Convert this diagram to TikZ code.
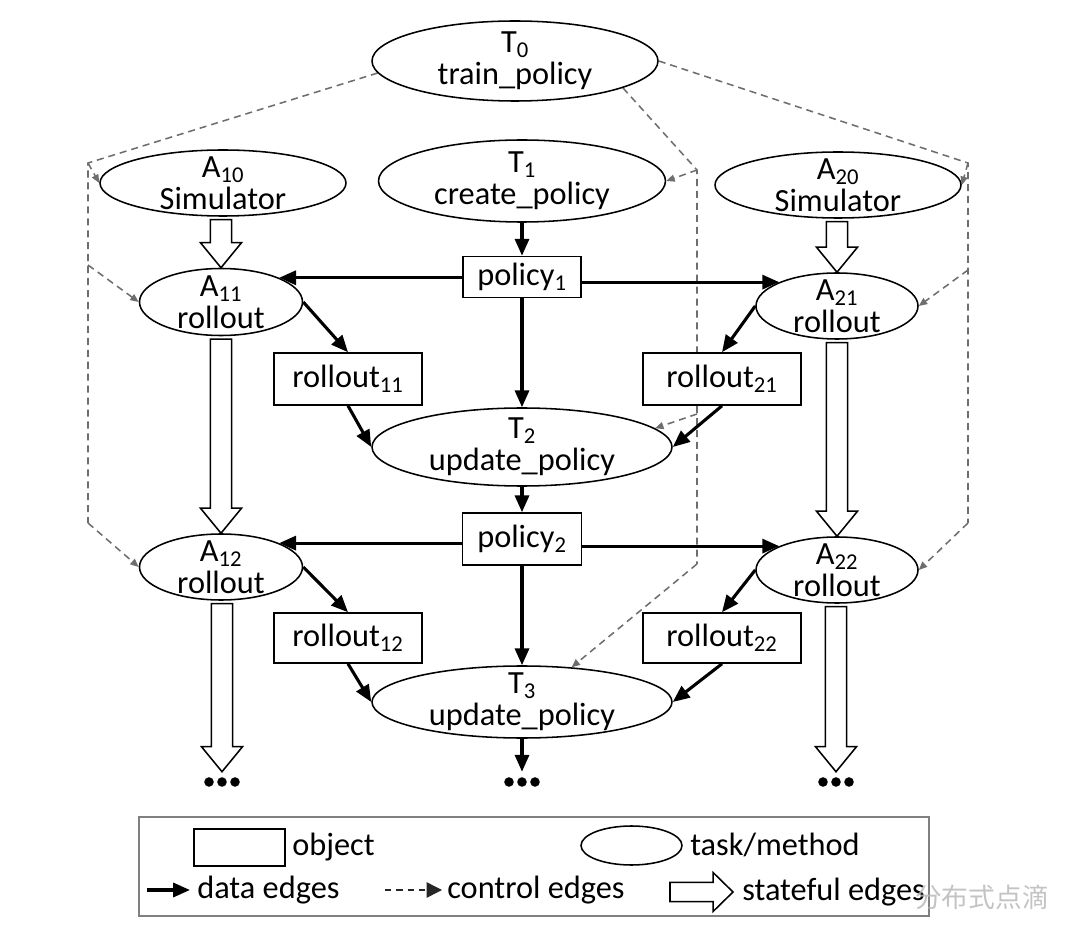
\documentclass[tikz,border=0pt]{standalone}
\usepackage{fontspec}
\setmainfont{Carlito}
\newfontfamily\cjkfont{Noto Sans CJK SC}
\usepackage{xcolor}
\usetikzlibrary{arrows.meta,shapes.geometric,positioning,calc,backgrounds}
\definecolor{ctrlgray}{RGB}{110,110,110}
\definecolor{framegray}{RGB}{128,128,128}
\definecolor{markgray}{RGB}{185,185,185}

% hollow "stateful" arrow from the south of #1 down to the north of #2
\newcommand{\statearrow}[2]{%
  \draw[stateful] let \p1=(#1.south), \p2=(#2.north) in
    (\x2,\y2) -- (\x2-14.6pt,\y2+17.8pt) -- (\x2-7.5pt,\y2+17.8pt)
    -- (\x2-7.5pt,\y1-2pt) -- (\x2+7.5pt,\y1-2pt) -- (\x2+7.5pt,\y2+17.8pt)
    -- (\x2+14.6pt,\y2+17.8pt) -- cycle;}

\begin{document}
\begin{tikzpicture}[x=0.025cm,y=-0.025cm,
  font=\fontsize{23pt}{23pt}\selectfont,
  wh/.style 2 args={minimum width=#1*0.025cm,minimum height=#2*0.025cm},
  task/.style={ellipse,draw,line width=1.1pt,fill=white,inner sep=-5pt,align=center},
  obj/.style={rectangle,draw,line width=1.1pt,fill=white,inner sep=0pt,align=center},
  data/.style={line width=2.2pt,-{Triangle[length=12pt,width=10pt]}},
  ctrl/.style={ctrlgray,line width=1.1pt,dash pattern=on 5pt off 3.5pt},
  ctrlarrow/.style={ctrl,-{Triangle[length=6pt,width=5pt]}},
  stateful/.style={draw,line width=1.1pt,fill=white,line join=miter},
  dotsnode/.style={inner sep=0pt,wh={40}{20}},
  legtext/.style={anchor=west,inner sep=0pt}]
\useasboundingbox (0,0) rectangle (1080,944);

% tasks and objects
\node[task,wh={286}{80}] (T0) at (515,61) {T\textsubscript{0}\\train\_policy};
\node[task,wh={246}{66}] (A10) at (223,183) {A\textsubscript{10}\\Simulator};
\node[task,wh={287}{82}] (T1) at (522,181) {T\textsubscript{1}\\create\_policy};
\node[task,wh={246}{66}] (A20) at (838,185) {A\textsubscript{20}\\Simulator};
\node[obj,wh={118}{41}] (p1) at (522,277) {policy\textsubscript{1}};
\node[task,wh={163}{67}] (A11) at (221,302) {A\textsubscript{11}\\rollout};
\node[task,wh={162}{66}] (A21) at (837,306) {A\textsubscript{21}\\rollout};
\node[obj,wh={148}{52}] (r11) at (348,379) {rollout\textsubscript{11}};
\node[obj,wh={158}{52}] (r21) at (722,379) {rollout\textsubscript{21}};
\node[task,wh={300}{78}] (T2) at (522,447) {T\textsubscript{2}\\update\_policy};
\node[obj,wh={119}{52}] (p2) at (522,539) {policy\textsubscript{2}};
\node[task,wh={163}{66}] (A12) at (221,567) {A\textsubscript{12}\\rollout};
\node[task,wh={162}{66}] (A22) at (837,570) {A\textsubscript{22}\\rollout};
\node[obj,wh={148}{50}] (r12) at (348,638) {rollout\textsubscript{12}};
\node[obj,wh={158}{50}] (r22) at (722,638) {rollout\textsubscript{22}};
\node[task,wh={300}{72}] (T3) at (522,702) {T\textsubscript{3}\\update\_policy};
\node[dotsnode] (e1) at (222,782) {};
\node[dotsnode] (e2) at (522,782) {};
\node[dotsnode] (e3) at (836,782) {};
\foreach \e in {e1,e2,e3}
  \foreach \dx in {-13,0,13}
    \fill ($(\e)+(\dx,0)$) circle[radius=3.4pt];

% data edges
\draw[data] (T1) -- (p1);
\draw[data] (A11.north east -| p1.west) -- (A11.north east);
\draw[data] (A21.north west -| p1.east) -- (A21.north west);
\draw[data] (p1) -- (T2);
\draw[data] (A11.east) -- (r11.north);
\draw[data] (A21.west) -- (r21.north);
\draw[data] (r11.south) -- (T2.west);
\draw[data] (r21.south) -- (T2.east);
\draw[data] (T2) -- (p2);
\draw[data] (A12.north east -| p2.west) -- (A12.north east);
\draw[data] (A22.north west -| p2.east) -- (A22.north west);
\draw[data] (p2) -- (T3);
\draw[data] (A12.east) -- (r12.north);
\draw[data] (A22.west) -- (r22.north);
\draw[data] (r12.south) -- (T3.west);
\draw[data] (r22.south) -- (T3.east);
\draw[data] (T3) -- (e2);

% stateful edges
\statearrow{A10}{A11}
\statearrow{A11}{A12}
\statearrow{A12}{e1}
\statearrow{A20}{A21}
\statearrow{A21}{A22}
\statearrow{A22}{e3}

% control edges
\begin{scope}[on background layer]
  \coordinate (lc1) at (88,163);
  \coordinate (lc2) at (88,265);
  \coordinate (lc3) at (88,523);
  \coordinate (rc1) at (968,163);
  \coordinate (rc2) at (968,270);
  \coordinate (rc3) at (968,523);
  \coordinate (mc1) at (697,170);
  \coordinate (mc2) at (697,414);
  \coordinate (mc3) at (697,564);
  \draw[ctrl] (T0.185) -- (lc1) -- (lc3);
  \draw[ctrl] (T0.east) -- (rc1) -- (rc3);
  \draw[ctrl] (T0.-14) -- (mc1) -- (mc3);
  \draw[ctrlarrow] (lc1) -- (A10.west);
  \draw[ctrlarrow] (lc2) -- (A11.west);
  \draw[ctrlarrow] (lc3) -- (A12.west);
  \draw[ctrlarrow] (rc1) -- (A20.east);
  \draw[ctrlarrow] (rc2) -- (A21.east);
  \draw[ctrlarrow] (rc3) -- (A22.east);
  \draw[ctrlarrow] (mc1) -- (T1.east);
  \draw[ctrlarrow] (mc2) -- (T2.8);
  \draw[ctrlarrow] (mc3) -- (T3.35);
\end{scope}

% legend
\node[draw=framegray,line width=1.4pt,wh={790}{99}] (leg) at (534,866.5) {};
\node[obj,wh={91}{37}] (lobj) at (239.5,847.5) {};
\node[legtext] (tobj) at (292,847) {object};
\node[task,wh={101}{39}] (ltask) at (631.5,845.5) {};
\node[legtext] (ttask) at (690,845) {task/method};
\coordinate (ld1) at (147,890);
\coordinate (ld2) at (190,890);
\draw[data] (ld1) -- (ld2);
\node[legtext] (tdata) at (197,890) {data edges};
\coordinate (lk1) at (385,890);
\coordinate (lk2) at (442,890);
\draw[black!85,line width=1pt,dash pattern=on 4.5pt off 3.5pt,
  -{Triangle[length=11pt,width=11pt]}] (lk1) -- (lk2);
\node[legtext] (tctrl) at (447,890) {control edges};
\coordinate (ls1) at (670,892);
\coordinate (ls2) at (733,892);
\draw[stateful] let \p1=(ls1), \p2=(ls2) in
  (\x2,\y2) -- (\x2-14.2pt,\y2+13.9pt) -- (\x2-14.2pt,\y2+6.8pt)
  -- (\x1,\y1+6.8pt) -- (\x1,\y1-6.8pt) -- (\x2-14.2pt,\y2-6.8pt)
  -- (\x2-14.2pt,\y2-13.9pt) -- cycle;
\node[legtext] (tstate) at (742,892) {stateful edges};
\node[text=markgray,opacity=0.85,font=\cjkfont\fontsize{19pt}{19pt}\selectfont] (wm) at (982,897) {分布式点滴};
\end{tikzpicture}
\end{document}
